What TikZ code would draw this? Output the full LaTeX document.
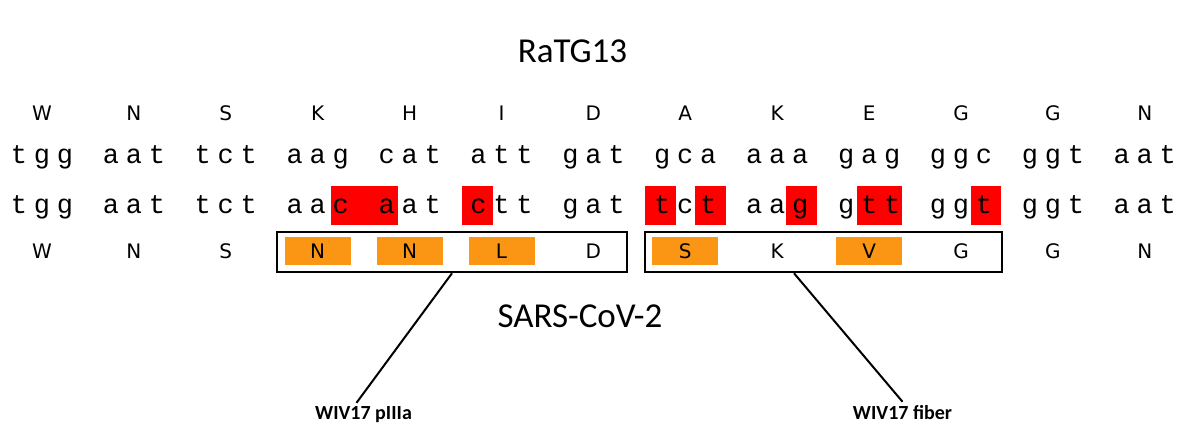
\documentclass[tikz,border=0pt]{standalone}
\usepackage{fontspec}
\setmainfont{Carlito}
\newfontfamily\aafont{DejaVu Sans}
\newfontfamily\ntfont{Liberation Mono}
\usepackage{tikz}
\usetikzlibrary{positioning}
\usepackage{xcolor}
\definecolor{snpred}{RGB}{255,0,0}
\definecolor{aaorange}{RGB}{250,150,20}

\begin{document}
\begin{tikzpicture}[x=1pt,y=-1pt,
    aa/.style={font=\aafont\fontsize{20}{20}\selectfont,anchor=base,inner sep=0pt},
    mut/.style={aa,fill=aaorange,minimum width=66pt,minimum height=28pt},
    nt/.style={font=\ntfont\fontsize{27}{27}\selectfont,anchor=base,inner sep=0pt},
    strain/.style={font=\fontsize{35}{35}\selectfont,anchor=base},
    gene/.style={font=\bfseries\fontsize{20}{20}\selectfont,anchor=base,inner sep=3pt},
    frame/.style={draw,line width=2.5pt,minimum height=40pt,inner sep=0pt}]
    \useasboundingbox (0,0) rectangle (1200,434);
    \node[strain] (ratg) at (572.5,62) {RaTG13};
    \node[strain] (sars) at (580,327) {SARS-CoV-2};
    % RaTG13 amino acids
    \foreach \aa [count=\i] in {W,N,S,K,H,I,D,A,K,E,G,G,N}
        \node[aa] (rt-\i) at ({42+(\i-1)*91.9},120) {\aa};
    % changed bases
    \foreach \xa/\xb in {331/398,462/493,645/676,695/726,786/817,857/902,971/1001}
        \fill[snpred] (\xa,186) rectangle (\xb,225);
    % codons
    \foreach \a/\b/\c [count=\i] in {t/g/g,a/a/t,t/c/t,a/a/g,c/a/t,a/t/t,g/a/t,g/c/a,a/a/a,g/a/g,g/g/c,g/g/t,a/a/t} {
        \node[nt] (ra-\i-1) at ({42+(\i-1)*91.9-23},163) {\a};
        \node[nt] (ra-\i-2) at ({42+(\i-1)*91.9},163) {\b};
        \node[nt] (ra-\i-3) at ({42+(\i-1)*91.9+23},163) {\c};
    }
    \foreach \a/\b/\c [count=\i] in {t/g/g,a/a/t,t/c/t,a/a/c,a/a/t,c/t/t,g/a/t,t/c/t,a/a/g,g/t/t,g/g/t,g/g/t,a/a/t} {
        \node[nt] (sc-\i-1) at ({42+(\i-1)*91.9-23},213) {\a};
        \node[nt] (sc-\i-2) at ({42+(\i-1)*91.9},213) {\b};
        \node[nt] (sc-\i-3) at ({42+(\i-1)*91.9+23},213) {\c};
    }
    % SARS-CoV-2 amino acids
    \foreach \aa/\st [count=\i] in {W/aa,N/aa,S/aa,N/mut,N/mut,L/mut,D/aa,S/mut,K/aa,V/mut,G/aa,G/aa,N/aa}
        \node[\st] (sa-\i) at ({42+(\i-1)*91.9},258) {\aa};
    \node[frame,minimum width=350pt] (box1) at (452,252) {};
    \node[frame,minimum width=357pt] (box2) at (823.5,252) {};
    % inserts
    \node[gene] (piiia) at (363.5,419) {WIV17 pIIIa};
    \node[gene] (fiber) at (902.5,419) {WIV17 fiber};
    \draw[line width=2pt] (box1.south) -- ([xshift=-7pt]piiia.north);
    \draw[line width=2pt] ([xshift=-29.5pt]box2.south) -- (fiber.north);
\end{tikzpicture}
\end{document}
